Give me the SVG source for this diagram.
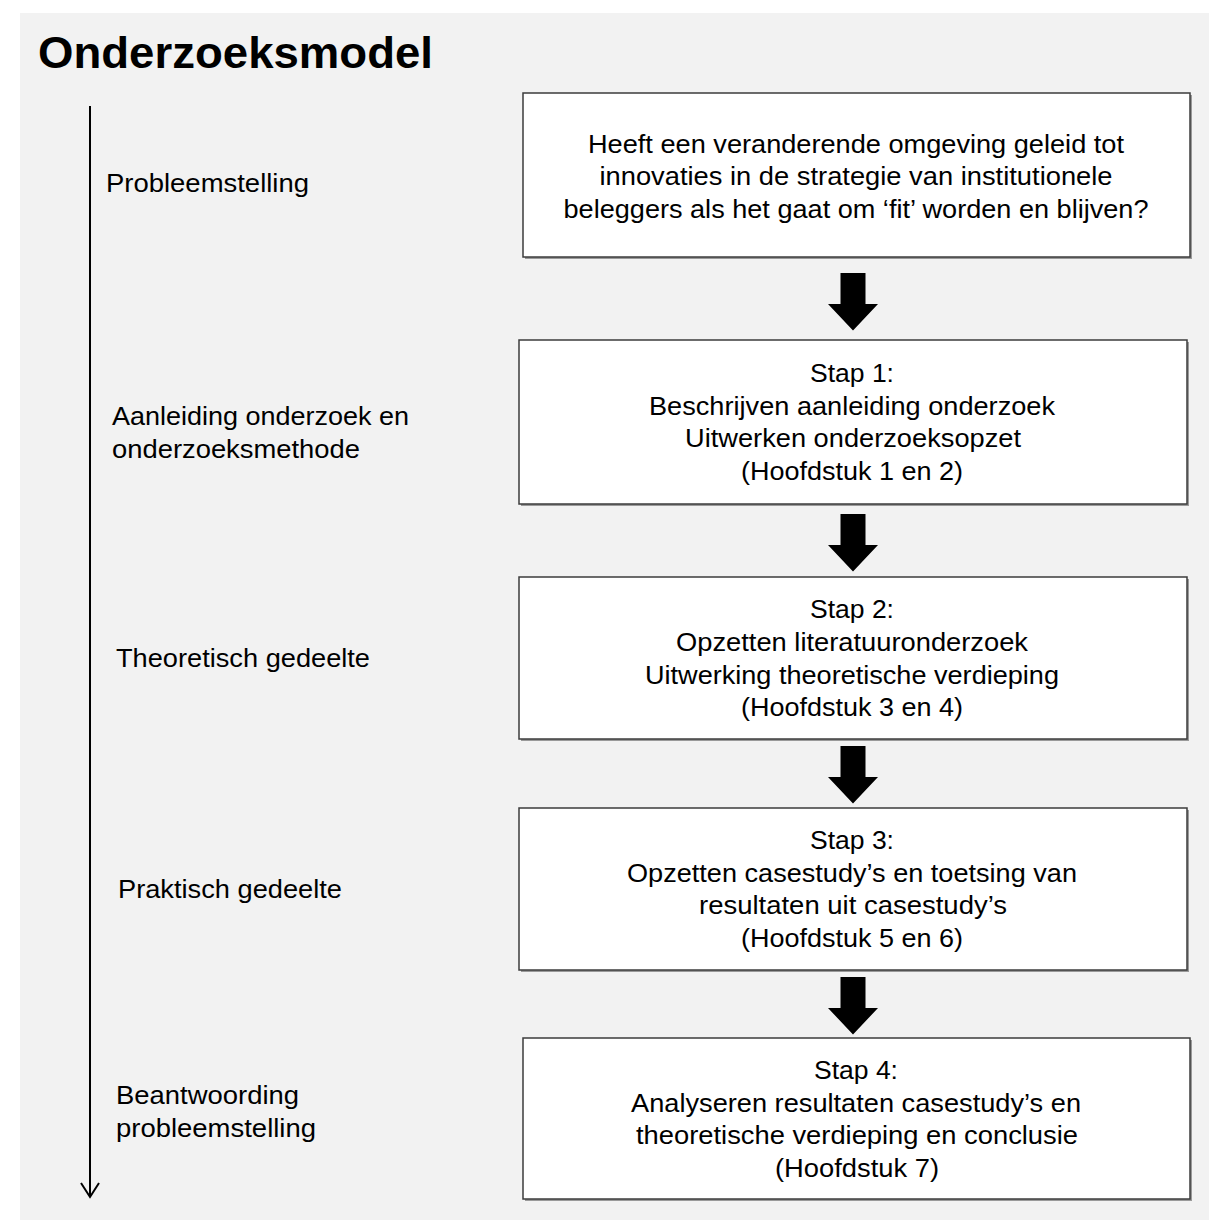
<svg xmlns="http://www.w3.org/2000/svg" width="1209" height="1220" viewBox="0 0 1209 1220">
  <style>
    .bg { fill: #f2f2f2; }
    .box { fill: #ffffff; stroke: #3c3c3c; stroke-width: 1.5; }
    .shadow { fill: #9a9a9a; }
    .t { font-family: "Liberation Sans", Arial, sans-serif; font-size: 26px; fill: #000; text-anchor: middle; }
    .lbl { font-family: "Liberation Sans", Arial, sans-serif; font-size: 26px; fill: #000; }
    .title { font-family: "Liberation Sans", Arial, sans-serif; font-size: 44px; font-weight: bold; fill: #000; }
    .blk { fill: #000; }
  </style>
  <rect class="bg" x="20" y="13" width="1189" height="1207"/>
  <text class="title" x="38" y="68" textLength="395" lengthAdjust="spacingAndGlyphs">Onderzoeksmodel</text>

  <g id="timeline">
    <line x1="90" y1="106" x2="90" y2="1196" stroke="#000" stroke-width="2"/>
    <polyline points="81,1183 90,1197 99,1183" fill="none" stroke="#000" stroke-width="2"/>
  </g>

  <g id="labels">
    <text class="lbl" x="106" y="192" textLength="203" lengthAdjust="spacingAndGlyphs">Probleemstelling</text>
    <text class="lbl" x="112" y="425" textLength="297" lengthAdjust="spacingAndGlyphs">Aanleiding onderzoek en</text>
    <text class="lbl" x="112" y="457.5" textLength="248" lengthAdjust="spacingAndGlyphs">onderzoeksmethode</text>
    <text class="lbl" x="116" y="667" textLength="254" lengthAdjust="spacingAndGlyphs">Theoretisch gedeelte</text>
    <text class="lbl" x="118" y="898" textLength="224" lengthAdjust="spacingAndGlyphs">Praktisch gedeelte</text>
    <text class="lbl" x="116" y="1104" textLength="183" lengthAdjust="spacingAndGlyphs">Beantwoording</text>
    <text class="lbl" x="116" y="1137" textLength="200" lengthAdjust="spacingAndGlyphs">probleemstelling</text>
  </g>

  <g id="node-probleemstelling">
    <rect class="shadow" x="525" y="95" width="667" height="164"/>
    <rect class="box" x="523" y="93" width="667" height="164"/>
    <text class="t" x="856" y="152.5" textLength="536" lengthAdjust="spacingAndGlyphs">Heeft een veranderende omgeving geleid tot</text>
    <text class="t" x="856" y="185" textLength="513" lengthAdjust="spacingAndGlyphs">innovaties in de strategie van institutionele</text>
    <text class="t" x="856" y="217.5" textLength="585" lengthAdjust="spacingAndGlyphs">beleggers als het gaat om ‘fit’ worden en blijven?</text>
  </g>

  <g id="node-stap1">
    <rect class="shadow" x="521" y="342" width="668" height="164"/>
    <rect class="box" x="519" y="340" width="668" height="164"/>
    <text class="t" x="852" y="382" textLength="84" lengthAdjust="spacingAndGlyphs">Stap 1:</text>
    <text class="t" x="852" y="414.5" textLength="406" lengthAdjust="spacingAndGlyphs">Beschrijven aanleiding onderzoek</text>
    <text class="t" x="853" y="447" textLength="336" lengthAdjust="spacingAndGlyphs">Uitwerken onderzoeksopzet</text>
    <text class="t" x="852" y="479.5" textLength="222" lengthAdjust="spacingAndGlyphs">(Hoofdstuk 1 en 2)</text>
  </g>

  <g id="node-stap2">
    <rect class="shadow" x="521" y="579" width="668" height="162"/>
    <rect class="box" x="519" y="577" width="668" height="162"/>
    <text class="t" x="852" y="618" textLength="84" lengthAdjust="spacingAndGlyphs">Stap 2:</text>
    <text class="t" x="852" y="651" textLength="352" lengthAdjust="spacingAndGlyphs">Opzetten literatuuronderzoek</text>
    <text class="t" x="852" y="683.5" textLength="414" lengthAdjust="spacingAndGlyphs">Uitwerking theoretische verdieping</text>
    <text class="t" x="852" y="716" textLength="222" lengthAdjust="spacingAndGlyphs">(Hoofdstuk 3 en 4)</text>
  </g>

  <g id="node-stap3">
    <rect class="shadow" x="521" y="810" width="668" height="162"/>
    <rect class="box" x="519" y="808" width="668" height="162"/>
    <text class="t" x="852" y="849" textLength="84" lengthAdjust="spacingAndGlyphs">Stap 3:</text>
    <text class="t" x="852" y="881.5" textLength="450" lengthAdjust="spacingAndGlyphs">Opzetten casestudy’s en toetsing van</text>
    <text class="t" x="853" y="914" textLength="308" lengthAdjust="spacingAndGlyphs">resultaten uit casestudy’s</text>
    <text class="t" x="852" y="946.5" textLength="222" lengthAdjust="spacingAndGlyphs">(Hoofdstuk 5 en 6)</text>
  </g>

  <g id="node-stap4">
    <rect class="shadow" x="525" y="1040" width="667" height="161"/>
    <rect class="box" x="523" y="1038" width="667" height="161"/>
    <text class="t" x="856" y="1079" textLength="84" lengthAdjust="spacingAndGlyphs">Stap 4:</text>
    <text class="t" x="856" y="1111.5" textLength="450" lengthAdjust="spacingAndGlyphs">Analyseren resultaten casestudy’s en</text>
    <text class="t" x="857" y="1144" textLength="442" lengthAdjust="spacingAndGlyphs">theoretische verdieping en conclusie</text>
    <text class="t" x="857" y="1176.5" textLength="164" lengthAdjust="spacingAndGlyphs">(Hoofdstuk 7)</text>
  </g>

  <defs>
    <path id="blockArrow" d="M -12.5 0 H 12.5 V 31 H 25 L 0 57.5 L -25 31 H -12.5 Z"/>
  </defs>
  <g id="connectors">
    <use href="#blockArrow" class="blk" x="853" y="273"/>
    <use href="#blockArrow" class="blk" x="853" y="514"/>
    <use href="#blockArrow" class="blk" x="853" y="746"/>
    <use href="#blockArrow" class="blk" x="853" y="977"/>
  </g>
</svg>
